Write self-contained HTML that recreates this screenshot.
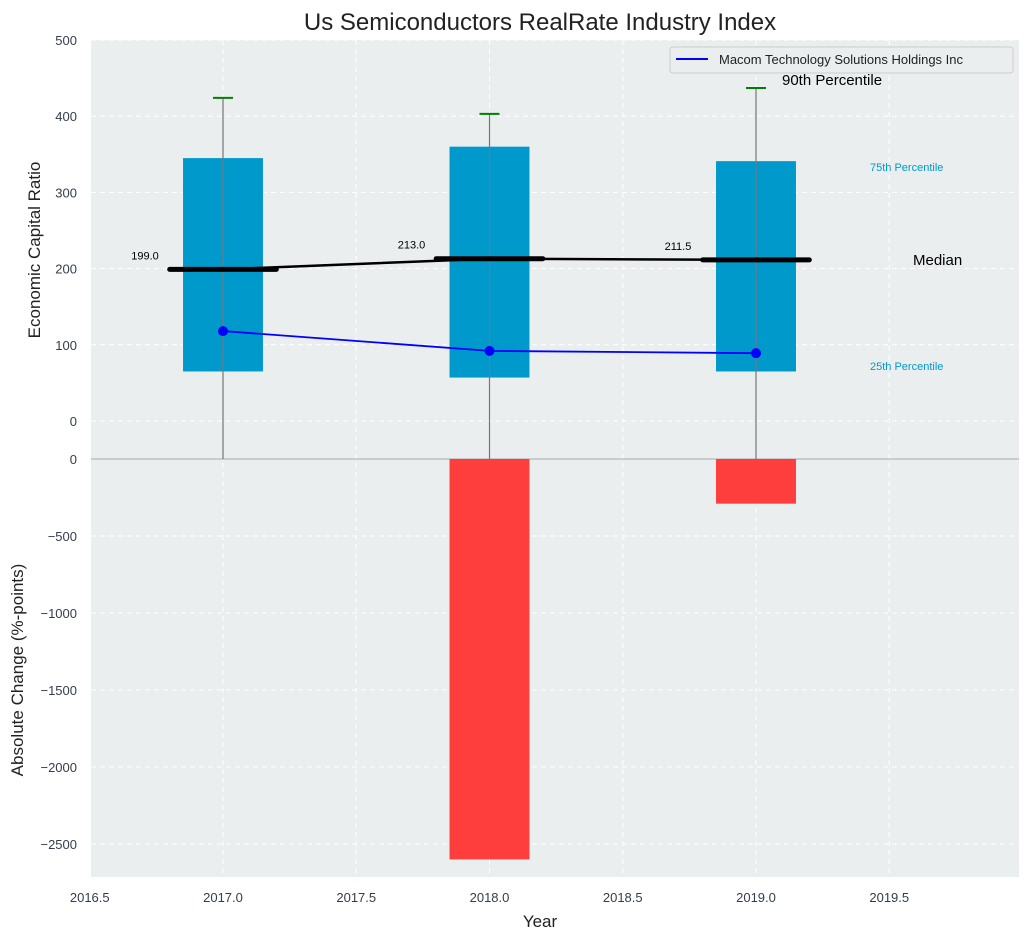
<!DOCTYPE html>
<html><head><meta charset="utf-8"><style>
body{margin:0;background:#fff;font-family:"Liberation Sans",sans-serif}
svg text{font-family:"Liberation Sans",sans-serif}
</style></head><body>
<svg id="c" width="1029" height="940" xmlns="http://www.w3.org/2000/svg"></svg>
<script>
const years=[2017,2018,2019];
const p25=[65,57,65];
const p75=[345,360,341];
const p90=[424,403,437];
const medians=[199,213,211.5];
const company=[118,92,89];
const changes=[0,-2600,-290];
const topTicks=[0,100,200,300,400,500];
const botTicks=[0,-500,-1000,-1500,-2000,-2500];
const xTicks=[2016.5,2017,2017.5,2018,2018.5,2019,2019.5];

const NS="http://www.w3.org/2000/svg";
const svg=document.getElementById('c');
function el(t,a,txt){const e=document.createElementNS(NS,t);for(const k in a)e.setAttribute(k,a[k]);if(txt!==undefined)e.textContent=txt;svg.appendChild(e);return e;}
const L=91,R=1019;
const X=v=>223+(v-2017)*266.5;
const YT=v=>421-v*0.762;
const YB=v=>459-v*0.154;
const T1=40,B1=459,T2=459,B2=877;

let e;
e=el('rect',{x:L,y:T1,width:R-L,height:B1-T1,fill:'#eaeeef'});


e=el('rect',{x:L,y:T2,width:R-L,height:B2-T2,fill:'#eaeeef'});


// grids
xTicks.forEach(v=>{
 e=el('line',{x1:X(v),x2:X(v),y1:T1,y2:B2,stroke:'#fff','stroke-dasharray':'5,4','stroke-width':1});
 
 
 e=el('text',{x:X(v),y:902,'text-anchor':'middle','font-size':13,fill:'#333d4d'},v.toFixed(1));
 
 
});
topTicks.forEach(v=>{
 e=el('line',{x1:L,x2:R,y1:YT(v),y2:YT(v),stroke:'#fff','stroke-dasharray':'5,4'});
 
 
 e=el('text',{x:77,y:YT(v)+5,'text-anchor':'end','font-size':13,fill:'#333d4d'},v);
 
 
});
botTicks.forEach(v=>{
 e=el('line',{x1:L,x2:R,y1:YB(v),y2:YB(v),stroke:'#fff','stroke-dasharray':'5,4'});
 
 
 e=el('text',{x:77,y:YB(v)+5,'text-anchor':'end','font-size':13,fill:'#333d4d'},v===0?'0':'\u2212'+Math.abs(v));
 
 
});
e=el('line',{x1:L,x2:R,y1:459,y2:459,stroke:'#aaa','stroke-width':1});


const bw=0.3*266.5;
years.forEach((y,i)=>{
 e=el('rect',{x:X(y)-bw/2,y:YT(p75[i]),width:bw,height:YT(p25[i])-YT(p75[i]),fill:'#0099cc'});
 
 
 e=el('line',{x1:X(y),x2:X(y),y1:YT(p90[i]),y2:B1,stroke:'#777','stroke-width':1.2});
 
 
 e=el('line',{x1:X(y)-10,x2:X(y)+10,y1:YT(p90[i]),y2:YT(p90[i]),stroke:'green','stroke-width':2});
 
 
 e=el('line',{x1:X(y)-0.2*266.5,x2:X(y)+0.2*266.5,y1:YT(medians[i]),y2:YT(medians[i]),stroke:'#000','stroke-width':5,'stroke-linecap':'round'});
 
 
 e=el('text',{x:X(y)-78,y:YT(medians[i])-10,'text-anchor':'middle','font-size':11,fill:'#000'},medians[i].toFixed(1));
 
 
 if(changes[i]!==0){
  e=el('rect',{x:X(y)-bw/2,y:YB(0),width:bw,height:YB(changes[i])-YB(0),fill:'#ff3333',opacity:0.95});
  
  
 }
});
e=el('polyline',{points:years.map((y,i)=>X(y)+','+YT(medians[i])).join(' '),fill:'none',stroke:'#000','stroke-width':2.5});


e=el('polyline',{points:years.map((y,i)=>X(y)+','+YT(company[i])).join(' '),fill:'none',stroke:'blue','stroke-width':1.8});


years.forEach((y,i)=>{
 e=el('circle',{cx:X(y),cy:YT(company[i]),r:5,fill:'blue'});
 
 
});
// annotations
e=el('text',{x:782,y:85,'font-size':15,fill:'#000'},'90th Percentile');

e=el('text',{x:870,y:171,'font-size':11,fill:'#0099cc'},'75th Percentile');

e=el('text',{x:913,y:265,'font-size':15,fill:'#000'},'Median');

e=el('text',{x:870,y:370,'font-size':11,fill:'#0099cc'},'25th Percentile');

// legend
e=el('rect',{x:670,y:47,width:343,height:26,rx:3,fill:'#eaeeef',stroke:'#ccc'});

e=el('line',{x1:676,x2:708,y1:59,y2:59,stroke:'blue','stroke-width':2});

e=el('text',{x:719,y:64,'font-size':13,fill:'#222'},'Macom Technology Solutions Holdings Inc');

// titles
e=el('text',{x:540,y:30,'text-anchor':'middle','font-size':24,fill:'#222'},'Us Semiconductors RealRate Industry Index');

e=el('text',{x:540,y:927,'text-anchor':'middle','font-size':17,fill:'#222'},'Year');

e=el('text',{x:0,y:0,'text-anchor':'middle','font-size':17,fill:'#222',transform:'translate(40,250) rotate(-90)'},'Economic Capital Ratio');

e=el('text',{x:0,y:0,'text-anchor':'middle','font-size':17,fill:'#222',transform:'translate(23,670) rotate(-90)'},'Absolute Change (%-points)');

</script>
</body></html>
